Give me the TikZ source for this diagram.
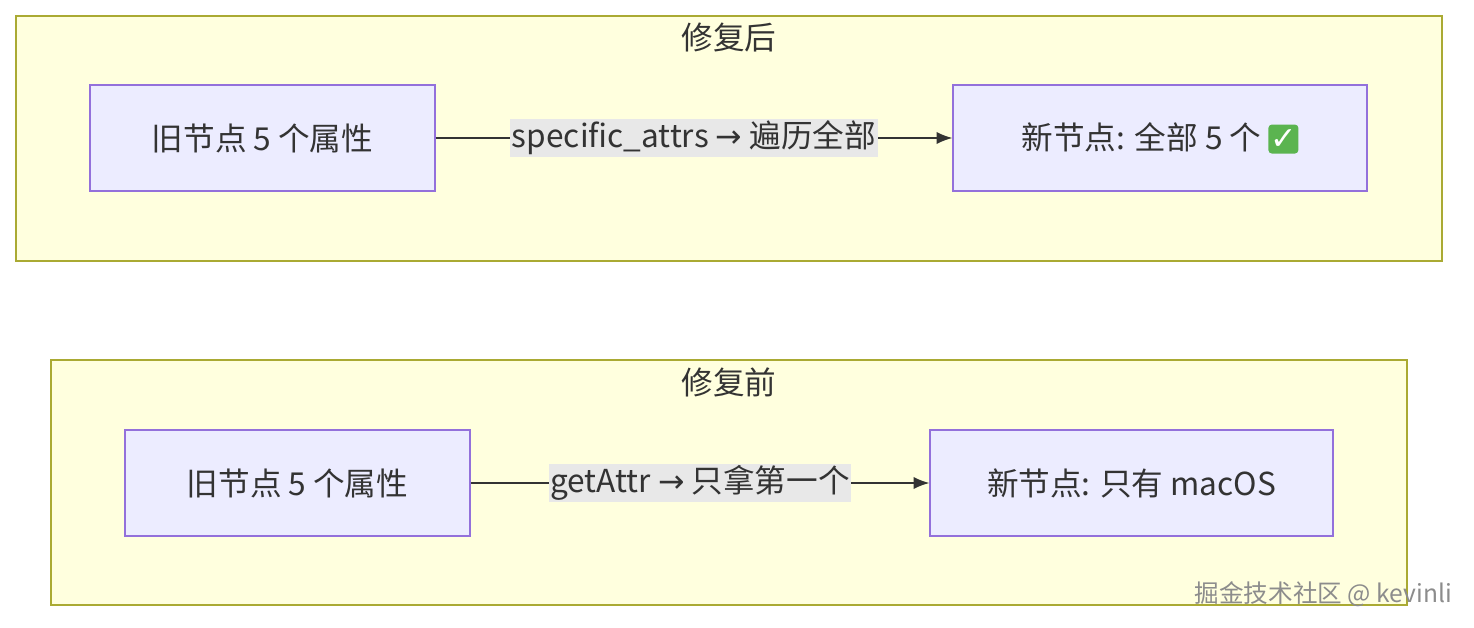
\documentclass[tikz,border=0pt]{standalone}
\usepackage{fontspec}
\setmainfont{Noto Sans CJK SC}
\newfontfamily\symfont{DejaVu Sans}
\usetikzlibrary{positioning,arrows.meta}
\definecolor{clfill}{HTML}{FFFFDE}
\definecolor{cldraw}{HTML}{AAAA33}
\definecolor{ndfill}{HTML}{ECECFF}
\definecolor{nddraw}{HTML}{9370DB}
\definecolor{lblbg}{HTML}{E8E8E8}
\definecolor{okgreen}{HTML}{5BB450}
\newcommand{\okmark}{\tikz[baseline=-0.6ex]\node[fill=okgreen,rounded corners=2pt,text=white,inner sep=1pt,minimum size=0.58cm,font=\symfont\bfseries]{✓};}

\begin{document}
\begin{tikzpicture}[x=0.02cm,y=-0.02cm,
    every node/.style={font=\fontsize{18}{21}\selectfont,text=black!80},
    cluster/.style={draw=cldraw,fill=clfill,line width=0.8pt},
    box/.style={draw=nddraw,fill=ndfill,line width=0.8pt,minimum width=6.9cm,minimum height=2.12cm},
    lbl/.style={fill=lblbg,inner sep=1pt},
    link/.style={-{Latex[length=9pt,width=7pt]},line width=0.8pt,black!80}]
    \useasboundingbox (0,0) rectangle (1474,628);

    % after fix
    \draw[cluster] (16,16) rectangle (1442,261);
    \node (t_after) at (729,38) {修复后};
    \node[box] (old_a) at (262.5,138) {旧节点 5 个属性};
    \node[box,minimum width=8.28cm] (new_a) at (1160,138) {新节点: 全部 5 个 \okmark};
    \draw[link] (old_a) -- node[lbl] (l_a) {specific\_attrs {\symfont →} 遍历全部} (new_a);

    % before fix
    \draw[cluster] (51,360) rectangle (1407,605);
    \node (t_before) at (729,382) {修复前};
    \node[box] (old_b) at (297.5,483) {旧节点 5 个属性};
    \node[box,minimum width=8.06cm] (new_b) at (1131.5,483) {新节点: 只有 macOS};
    \draw[link] (old_b) -- node[lbl] (l_b) {getAttr {\symfont →} 只拿第一个} (new_b);

    \node[text=black!45,anchor=east,font=\fontsize{14}{16}\selectfont] (mark) at (1458,594) {掘金技术社区 @ kevinli};
\end{tikzpicture}
\end{document}
